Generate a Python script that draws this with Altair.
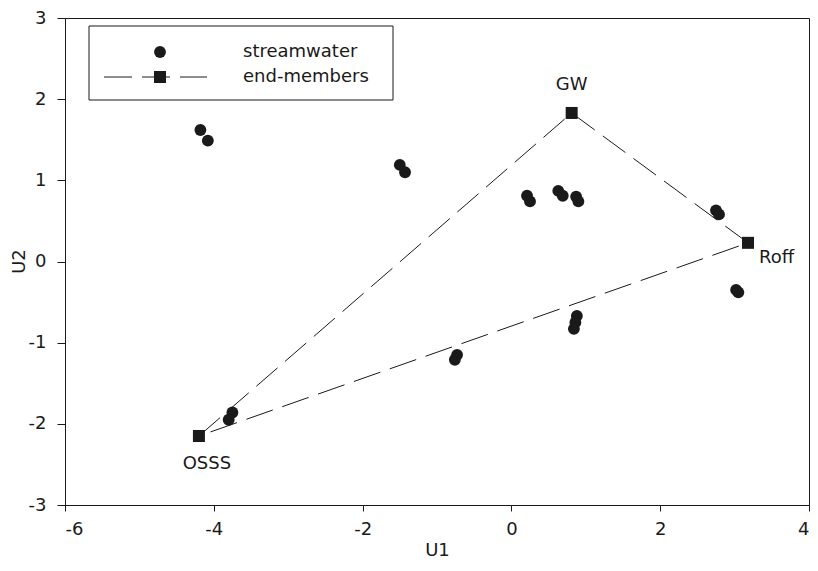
import altair as alt
import pandas as pd

# streamwater samples
sw_u1 = [-4.18, -4.08, -1.50, -1.43, 0.21, 0.25, 0.63, 0.69, 0.87, 0.90,
         2.75, 2.79, 3.02, 3.05, 0.88, 0.86, 0.84, -0.73, -0.76, -3.75, -3.80]
sw_u2 = [1.62, 1.49, 1.19, 1.10, 0.81, 0.74, 0.87, 0.81, 0.80, 0.74,
         0.63, 0.58, -0.35, -0.38, -0.67, -0.75, -0.83, -1.15, -1.21, -1.86, -1.95]

# end-members
em_names = ["OSSS", "GW", "Roff"]
em_u1 = [-4.20, 0.81, 3.18]
em_u2 = [-2.15, 1.83, 0.23]

x_ticks = [-6, -4, -2, 0, 2, 4]
y_ticks = [-3, -2, -1, 0, 1, 2, 3]

FONT = "DejaVu Sans"
FS = 18
INK = "#1a1a1a"

sw = pd.DataFrame({"U1": sw_u1, "U2": sw_u2})
em = pd.DataFrame({"name": em_names, "U1": em_u1, "U2": em_u2})
poly = pd.DataFrame({
    "U1": em_u1 + [em_u1[0]],
    "U2": em_u2 + [em_u2[0]],
    "o": list(range(len(em_u1) + 1)),
})

xs = alt.Scale(domain=[-6, 4], nice=False, zero=False)
ys = alt.Scale(domain=[-3, 3], nice=False, zero=False)
xax = alt.Axis(values=x_ticks, grid=False, title="U1", labelExpr="'' + datum.value",
               tickSize=6, labelPadding=9, titlePadding=3)
yax = alt.Axis(values=y_ticks, grid=False, title="U2", labelExpr="'' + datum.value",
               tickSize=8, labelPadding=11, titleX=-46, titleY=243,
               titleAlign="center", titleBaseline="middle", titleAngle=-90)

lines = alt.Chart(poly).mark_line(
    color=INK, strokeWidth=1, strokeDash=[28, 10]
).encode(
    x=alt.X("U1:Q", scale=xs, axis=xax),
    y=alt.Y("U2:Q", scale=ys, axis=yax),
    order="o:Q",
)

pts = alt.Chart(sw).mark_point(
    shape="circle", filled=True, color=INK, size=140, opacity=1
).encode(x=alt.X("U1:Q", scale=xs), y=alt.Y("U2:Q", scale=ys))

sq = alt.Chart(em).mark_point(
    shape="square", filled=True, color=INK, size=144, opacity=1
).encode(x=alt.X("U1:Q", scale=xs), y=alt.Y("U2:Q", scale=ys))

def lab(name, **kw):
    return alt.Chart(em[em["name"] == name]).mark_text(
        font=FONT, fontSize=FS, color=INK, **kw
    ).encode(x=alt.X("U1:Q", scale=xs), y=alt.Y("U2:Q", scale=ys), text="name:N")

lab_gw = lab("GW", dy=-28, align="center", baseline="middle")
lab_roff = lab("Roff", dx=11, dy=15, align="left", baseline="middle")
lab_osss = lab("OSSS", dx=8, dy=28, align="center", baseline="middle")

# legend (drawn manually)
one = pd.DataFrame({"d": [0]})
box = alt.Chart(one).mark_rect(fill="white", stroke=INK, strokeWidth=1).encode(
    x=alt.value(24), x2=alt.value(328), y=alt.value(8), y2=alt.value(82)
)
leg_pt = alt.Chart(one).mark_point(
    shape="circle", filled=True, color=INK, size=140, opacity=1
).encode(x=alt.value(95), y=alt.value(34))
leg_line = alt.Chart(one).mark_rule(color=INK, strokeWidth=1, strokeDash=[28, 10]).encode(
    x=alt.value(39), x2=alt.value(142), y=alt.value(59)
)
leg_sq = alt.Chart(one).mark_point(
    shape="square", filled=True, color=INK, size=144, opacity=1
).encode(x=alt.value(95), y=alt.value(59))
leg_t1 = alt.Chart(one).mark_text(
    font=FONT, fontSize=FS, color=INK, align="left", baseline="middle", text="streamwater"
).encode(x=alt.value(178), y=alt.value(34))
leg_t2 = alt.Chart(one).mark_text(
    font=FONT, fontSize=FS, color=INK, align="left", baseline="middle", text="end-members"
).encode(x=alt.value(178), y=alt.value(59))

chart = alt.layer(
    lines, pts, sq, lab_gw, lab_roff, lab_osss,
    box, leg_line, leg_pt, leg_sq, leg_t1, leg_t2,
).properties(
    width=744, height=487,
    autosize=alt.AutoSizeParams(type="none"),
    padding={"left": 57, "top": 10, "right": 1, "bottom": 58},
).configure_view(
    stroke=INK, strokeWidth=1
).configure_axis(
    domainColor=INK, tickColor=INK, labelColor=INK, titleColor=INK,
    labelFont=FONT, titleFont=FONT, labelFontSize=FS, titleFontSize=FS,
    titleFontWeight="normal", domainWidth=1, tickWidth=1,
)

chart.save("out.html", embed_options={"renderer": "svg", "actions": False})
